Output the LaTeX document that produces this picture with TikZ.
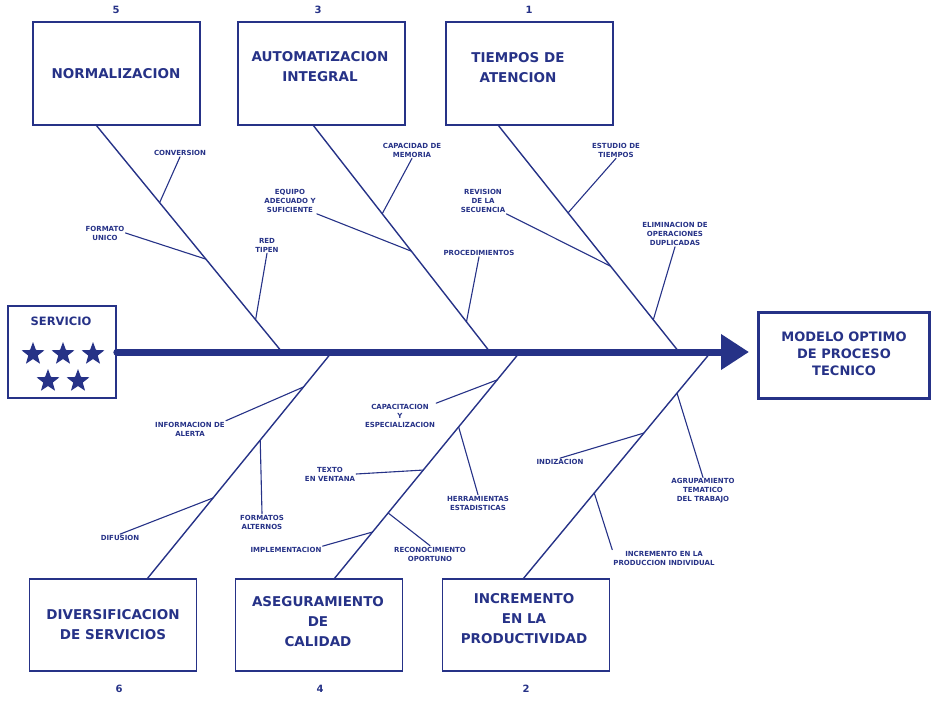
\documentclass[tikz,border=0pt]{standalone}
\usepackage{fontspec}
\setmainfont{DejaVu Sans}
\usetikzlibrary{arrows.meta,calc,shapes.geometric}
\definecolor{ink}{RGB}{38,50,135}

\begin{document}
\begin{tikzpicture}[x=1pt, y=-1pt, ink, line cap=round,
    box/.style={draw, line width=1.6pt, minimum width=167pt, minimum height=103pt, inner sep=0pt},
    lowbox/.style={box, minimum height=92pt},
    title/.style={font=\fontsize{13.5}{20}\selectfont\bfseries, align=center},
    num/.style={font=\fontsize{10}{12}\selectfont\bfseries},
    lbl/.style={font=\fontsize{7}{9}\selectfont\bfseries, align=center, inner sep=1pt},
    bone/.style={line width=1.4pt},
    twig/.style={line width=1.1pt},
    spine/.style={line width=7pt, -{Triangle[length=28pt,width=34pt]}},
    starnode/.style={star, star points=5, star point ratio=2.4, fill, draw=none, minimum size=24pt, inner sep=0pt}]
  \useasboundingbox (0,0) rectangle (933,701);

  % head and tail
  \node[box, minimum width=108pt, minimum height=92pt] (serv) at (62,352) {};
  \node[title, font=\fontsize{11.5}{14}\selectfont\bfseries] (servt) at (61,321) {SERVICIO};
  \node[starnode] (st1) at (33,354) {};
  \node[starnode] (st2) at (63,354) {};
  \node[starnode] (st3) at (93,354) {};
  \node[starnode] (st4) at (48,381) {};
  \node[starnode] (st5) at (78,381) {};
  \node[box, line width=3pt, minimum width=171pt, minimum height=86pt] (modelo) at (844,355) {};
  \node[title, font=\fontsize{13}{17}\selectfont\bfseries] (modelot) at (844,354) {MODELO OPTIMO\\DE PROCESO\\TECNICO};
  \draw[spine, shorten >=8pt] (serv.east) -- (modelo.west |- serv.east);

  % cause boxes
  \node[box] (b5) at (116.5,73.5) {};
  \node[box] (b3) at (321.5,73.5) {};
  \node[box] (b1) at (529.5,73.5) {};
  \node[lowbox] (b6) at (113,625) {};
  \node[lowbox] (b4) at (319,625) {};
  \node[lowbox] (b2) at (526,625) {};
  \node[title] (t5) at (116,74) {NORMALIZACION};
  \node[title] (t3) at (320,67) {AUTOMATIZACION\\INTEGRAL};
  \node[title] (t1) at (518,68) {TIEMPOS DE\\ATENCION};
  \node[title] (t6) at (113,625) {DIVERSIFICACION\\DE SERVICIOS};
  \node[title] (t4) at (318,622) {ASEGURAMIENTO\\DE\\CALIDAD};
  \node[title] (t2) at (524,619) {INCREMENTO\\EN LA\\PRODUCTIVIDAD};
  \node[num] (n5) at (116,10) {5};
  \node[num] (n3) at (318,10) {3};
  \node[num] (n1) at (529,10) {1};
  \node[num] (n6) at (119,689) {6};
  \node[num] (n4) at (320,689) {4};
  \node[num] (n2) at (526,689) {2};

  % bones
  \foreach \n/\h/\s in {5/96/282, 3/313/490, 1/498/679} {
    \coordinate (h\n) at (\h,125);
    \coordinate (s\n) at (\s,352);
    \draw[bone] (h\n) -- (s\n);
  }
  \foreach \n/\h/\s in {6/147/332, 4/334/520, 2/523/711} {
    \coordinate (h\n) at (\h,579);
    \coordinate (s\n) at (\s,352);
    \draw[bone] (s\n) -- (h\n);
  }

  % sub causes, top
  \node[lbl] (conv) at (180,153) {CONVERSION};
  \node[lbl] (fu) at (105,233) {FORMATO\\UNICO};
  \node[lbl] (red) at (267,245) {RED\\TIPEN};
  \draw[twig] ($(h5)!.342!(s5)$) -- (conv.south);
  \draw[twig] ($(h5)!.591!(s5)$) -- (fu.east);
  \draw[twig] ($(h5)!.858!(s5)$) -- (red.south);

  \node[lbl] (cap) at (412,150) {CAPACIDAD DE\\MEMORIA};
  \node[lbl] (equ) at (290,201) {EQUIPO\\ADECUADO Y\\SUFICIENTE};
  \node[lbl] (pro) at (479,253) {PROCEDIMIENTOS};
  \draw[twig] ($(h3)!.391!(s3)$) -- (cap.south);
  \draw[twig] ($(h3)!.556!(s3)$) -- (equ.south east);
  \draw[twig] ($(h3)!.867!(s3)$) -- (pro.south);

  \node[lbl] (est) at (616,150) {ESTUDIO DE\\TIEMPOS};
  \node[lbl] (rev) at (483,201) {REVISION\\DE LA\\SECUENCIA};
  \node[lbl] (eli) at (675,234) {ELIMINACION DE\\OPERACIONES\\DUPLICADAS};
  \draw[twig] ($(h1)!.387!(s1)$) -- (est.south);
  \draw[twig] ($(h1)!.622!(s1)$) -- (rev.south east);
  \draw[twig] ($(h1)!.858!(s1)$) -- (eli.south);

  % sub causes, bottom
  \node[lbl] (ale) at (190,429) {INFORMACION DE\\ALERTA};
  \node[lbl] (fa) at (262,522) {FORMATOS\\ALTERNOS};
  \node[lbl] (dif) at (120,538) {DIFUSION};
  \draw[twig] ($(s6)!.154!(h6)$) -- (ale.north east);
  \draw[twig] ($(s6)!.388!(h6)$) -- (fa.north);
  \draw[twig] ($(s6)!.643!(h6)$) -- (dif.north);

  \node[lbl] (esp) at (400,416) {CAPACITACION\\Y\\ESPECIALIZACION};
  \node[lbl] (her) at (478,503) {HERRAMIENTAS\\ESTADISTICAS};
  \node[lbl] (tex) at (330,474) {TEXTO\\EN VENTANA};
  \node[lbl] (imp) at (286,550) {IMPLEMENTACION};
  \node[lbl] (rec) at (430,554) {RECONOCIMIENTO\\OPORTUNO};
  \draw[twig] ($(s4)!.123!(h4)$) -- (esp.north east);
  \draw[twig] ($(s4)!.330!(h4)$) -- (her.north);
  \draw[twig] ($(s4)!.520!(h4)$) -- (tex.east);
  \draw[twig] ($(s4)!.793!(h4)$) -- (imp.north east);
  \draw[twig] ($(s4)!.709!(h4)$) -- (rec.north);

  \node[lbl] (agr) at (703,491) {AGRUPAMIENTO\\TEMATICO\\DEL TRABAJO};
  \node[lbl] (ind) at (560,462) {INDIZACION};
  \node[lbl] (inc) at (664,558) {INCREMENTO EN LA\\PRODUCCION INDIVIDUAL};
  \draw[twig] ($(s2)!.181!(h2)$) -- (agr.north);
  \draw[twig] ($(s2)!.357!(h2)$) -- (ind.north);
  \draw[twig] ($(s2)!.621!(h2)$) -- (inc.north west);
\end{tikzpicture}
\end{document}
